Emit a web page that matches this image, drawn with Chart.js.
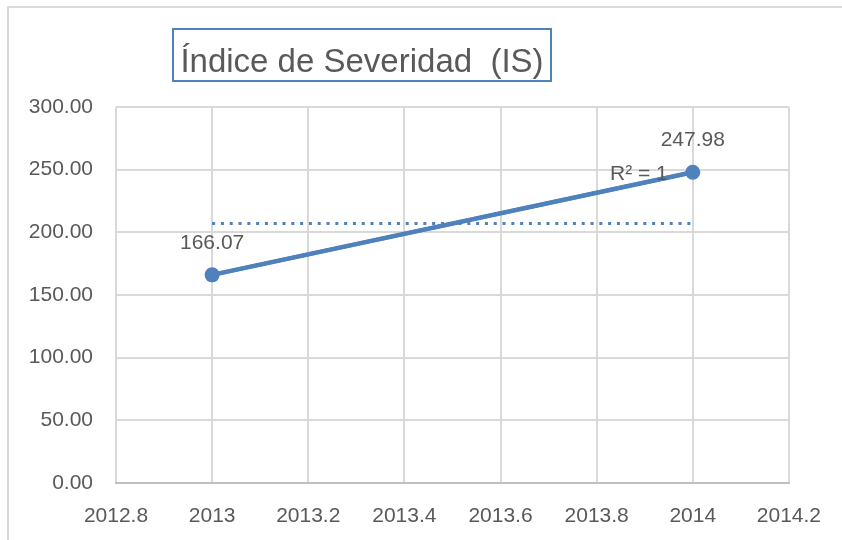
<!DOCTYPE html>
<html>
<head>
<meta charset="utf-8">
<script src="https://cdn.jsdelivr.net/npm/chart.js@4.4.0/dist/chart.umd.min.js"></script>
<style>
  html, body { margin: 0; padding: 0; background: #fff; }
  #wrap { position: relative; width: 842px; height: 540px; }
  #frame { position: absolute; left: 7px; top: 6px; right: 0; bottom: 0;
           border-top: 2px solid #d9d9d9; border-left: 2px solid #d9d9d9; }
  #title { position: absolute; left: 172px; top: 28px; width: 380px; height: 54px;
           border: 2px solid #4f81bd; box-sizing: border-box;
           font: 33px "Liberation Sans", sans-serif; color: #595959;
           line-height: 61px; text-align: center; white-space: pre; }
  canvas { position: absolute; left: 0; top: 0; }
</style>
</head>
<body>
<div id="wrap">
  <div id="frame"></div>
  <canvas id="isChart" width="842" height="540"></canvas>
  <div id="title">Índice de Severidad  (IS)</div>
</div>
<script>
const years = [2013, 2014];
const severity = [166.07, 247.98];
const averageLevel = 207.03;
const xTicks = [2012.8, 2013, 2013.2, 2013.4, 2013.6, 2013.8, 2014, 2014.2];
const yTicks = [0, 50, 100, 150, 200, 250, 300];
const trendLabel = 'R² = 1';

const blue = '#4f81bd';
const textColor = '#595959';
const font = { family: '"Liberation Sans", sans-serif', size: 21 };

// value labels and the R² text next to the trendline
const labelPlugin = {
  id: 'labels',
  afterDatasetsDraw(chart) {
    const ctx = chart.ctx;
    const xs = chart.scales.x, ys = chart.scales.y;
    ctx.save();
    ctx.font = '21px "Liberation Sans", sans-serif';
    ctx.fillStyle = textColor;
    ctx.textAlign = 'center';
    ctx.textBaseline = 'middle';
    years.forEach((yr, i) => {
      ctx.fillText(severity[i].toFixed(2), xs.getPixelForValue(yr), ys.getPixelForValue(severity[i]) - 32);
    });
    ctx.textAlign = 'right';
    ctx.fillText(trendLabel, xs.getPixelForValue(2014) - 25, ys.getPixelForValue(severity[1]) + 2);
    ctx.restore();
  }
};

const ctx = document.getElementById('isChart').getContext('2d');
new Chart(ctx, {
  type: 'scatter',
  data: {
    datasets: [
      {
        label: 'Promedio',
        data: years.map(x => ({ x: x, y: averageLevel })),
        showLine: true,
        borderColor: blue,
        borderWidth: 3,
        borderDash: [3, 5.8],
        pointRadius: 0,
        order: 2
      },
      {
        label: 'Tendencia',
        data: years.map((x, i) => ({ x: x, y: severity[i] })),
        showLine: true,
        borderColor: '#5a86bf',
        borderWidth: 4,
        pointRadius: 0,
        order: 1
      },
      {
        label: 'IS',
        data: years.map((x, i) => ({ x: x, y: severity[i] })),
        showLine: true,
        borderColor: blue,
        backgroundColor: blue,
        borderWidth: 4.5,
        pointRadius: 7.5,
        pointBorderWidth: 0,
        order: 0
      }
    ]
  },
  options: {
    responsive: false,
    animation: false,
    layout: { padding: { left: 0, top: 107, right: 51, bottom: 0 } },
    plugins: { legend: { display: false }, tooltip: { enabled: false } },
    scales: {
      x: {
        type: 'linear',
        min: 2012.8,
        max: 2014.2,
        afterBuildTicks: axis => { axis.ticks = xTicks.map(v => ({ value: v })); },
        afterFit: axis => { axis.height = 57; },
        grid: { color: '#d9d9d9', lineWidth: 2, drawTicks: false },
        border: { color: '#bfbfbf', width: 2 },
        ticks: {
          color: textColor, font: font, padding: 21,
          callback: v => String(Number(v.toFixed(1)))
        }
      },
      y: {
        min: 0,
        max: 300,
        afterBuildTicks: axis => { axis.ticks = yTicks.map(v => ({ value: v })); },
        afterFit: axis => { axis.width = 116; },
        grid: { color: '#d9d9d9', lineWidth: 2, drawTicks: false },
        border: { display: false },
        ticks: {
          color: textColor, font: font, padding: 23,
          callback: v => v.toFixed(2)
        }
      }
    }
  },
  plugins: [labelPlugin]
});
</script>
</body>
</html>
